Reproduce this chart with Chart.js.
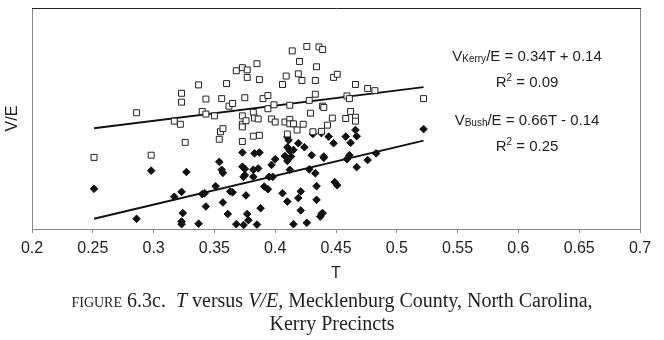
<!DOCTYPE html>
<html>
<head>
<title>T versus V/E</title>
<script src="https://cdn.jsdelivr.net/npm/chart.js@4.4.1/dist/chart.umd.min.js"></script>
<style>
body { margin:0; background:#fff; }
#wrap { position:relative; width:664px; height:340px; }
.eq {
 position:absolute; left:427px; width:200px; text-align:center;
 font-family:"Liberation Sans", Arial, sans-serif; font-size:15px; line-height:18px; color:#222;
 white-space:nowrap;
}
.eq sub { font-size:10px; vertical-align:-1px; line-height:0; }
.eq sup { font-size:10px; vertical-align:6px; line-height:0; }
.cap {
 position:absolute; left:0; width:664px; text-align:center;
 font-family:"Liberation Serif", "Times New Roman", serif; font-size:20px; line-height:23px; color:#222;
 white-space:nowrap;
}
.sc { font-variant:small-caps; }
</style>
</head>
<body>
<div id="wrap">
<canvas id="myChart" width="664" height="340"></canvas>
<div class="eq" style="top:47px">V<sub>Kerry</sub>/E = 0.34T + 0.14</div>
<div class="eq" style="top:73px">R<sup>2</sup> = 0.09</div>
<div class="eq" style="top:111px">V<sub>Bush</sub>/E = 0.66T - 0.14</div>
<div class="eq" style="top:137px">R<sup>2</sup> = 0.25</div>
<div class="cap" style="top:289px"><span class="sc">figure</span> 6.3c.&nbsp; <i>T</i> versus <i>V/E</i>, Mecklenburg County, North Carolina,<br>Kerry Precincts</div>
</div>
<script>
// turnout T and vote share V/E per precinct
var kerryT = [0.251,0.286,0.298,0.317,0.323,0.323,0.322,0.326,0.337,0.340,
  0.343,0.343,0.350,0.354,0.355,0.357,0.356,0.360,0.362,0.365,
  0.368,0.373,0.377,0.377,0.385,0.387,0.375,0.373,0.373,0.373,
  0.373,0.376,0.382,0.383,0.386,0.382,0.387,0.390,0.394,0.394,
  0.399,0.397,0.400,0.406,0.409,0.414,0.420,0.419,0.422,0.426,
  0.436,0.439,0.434,0.433,0.433,0.428,0.412,0.439,0.440,0.429,
  0.408,0.412,0.412,0.415,0.423,0.418,0.410,0.431,0.438,0.443,
  0.447,0.448,0.451,0.458,0.462,0.466,0.466,0.459,0.461,0.466,
  0.476,0.482,0.522];
var kerryV = [0.162,0.263,0.167,0.244,0.307,0.287,0.237,0.196,0.326,0.266,
  0.294,0.260,0.256,0.203,0.220,0.227,0.295,0.329,0.278,0.284,
  0.358,0.365,0.360,0.343,0.374,0.338,0.297,0.256,0.237,0.231,
  0.198,0.245,0.264,0.251,0.249,0.210,0.212,0.295,0.302,0.272,
  0.281,0.249,0.242,0.327,0.346,0.403,0.379,0.351,0.336,0.413,
  0.412,0.406,0.367,0.336,0.305,0.291,0.280,0.278,0.275,0.262,
  0.242,0.248,0.238,0.238,0.237,0.224,0.215,0.220,0.221,0.235,
  0.251,0.343,0.350,0.250,0.266,0.253,0.244,0.301,0.295,0.327,
  0.318,0.313,0.295];
var bushT = [0.251,0.286,0.298,0.317,0.323,0.327,0.324,0.323,0.323,0.337,
  0.340,0.342,0.343,0.351,0.354,0.356,0.357,0.357,0.361,0.363,
  0.365,0.373,0.373,0.375,0.374,0.375,0.376,0.377,0.368,0.374,
  0.378,0.383,0.387,0.382,0.386,0.382,0.388,0.385,0.395,0.398,
  0.391,0.394,0.397,0.400,0.406,0.410,0.410,0.411,0.410,0.412,
  0.415,0.408,0.413,0.410,0.419,0.424,0.412,0.421,0.419,0.421,
  0.415,0.426,0.430,0.428,0.433,0.431,0.438,0.440,0.440,0.434,
  0.434,0.437,0.438,0.439,0.444,0.448,0.449,0.451,0.458,0.462,
  0.466,0.467,0.459,0.461,0.467,0.476,0.483,0.522];
var bushV = [0.091,0.023,0.132,0.073,0.084,0.129,0.036,0.017,0.011,0.012,
  0.079,0.081,0.051,0.097,0.152,0.134,0.127,0.060,0.034,0.085,
  0.083,0.173,0.141,0.136,0.118,0.122,0.076,0.034,0.011,0.009,
  0.020,0.171,0.173,0.134,0.137,0.118,0.047,0.010,0.118,0.118,
  0.096,0.090,0.145,0.158,0.081,0.062,0.208,0.201,0.185,0.177,
  0.179,0.165,0.164,0.154,0.194,0.185,0.134,0.085,0.070,0.042,
  0.011,0.014,0.167,0.135,0.126,0.215,0.217,0.164,0.161,0.097,
  0.066,0.028,0.034,0.036,0.209,0.194,0.106,0.099,0.209,0.195,
  0.224,0.210,0.158,0.167,0.140,0.156,0.171,0.226];
// trend line end points
var fitT = [0.251, 0.522];
var kerryFitV = [0.228, 0.321];
var bushFitV = [0.023, 0.200];
var xTicks = [0.2,0.25,0.3,0.35,0.4,0.45,0.5,0.55,0.6,0.65,0.7];
var xTickLabels = ['0.2','0.25','0.3','0.35','0.4','0.45','0.5','0.55','0.6','0.65','0.7'];

function pts(xs, ys) {
  return xs.map(function (x, i) { return {x: x, y: ys[i]}; });
}

var frame = {
  id: 'frame',
  afterDatasetsDraw: function (chart) {
    var a = chart.chartArea, c = chart.ctx;
    c.save();
    c.lineWidth = 1;
    c.strokeStyle = '#888';
    c.beginPath();
    c.moveTo(Math.round(a.right) + 0.5, a.top);
    c.lineTo(Math.round(a.right) + 0.5, a.bottom);
    c.stroke();
    c.strokeStyle = '#222';
    c.beginPath();
    c.moveTo(a.left, Math.round(a.top) + 0.5);
    c.lineTo(a.right + 1, Math.round(a.top) + 0.5);
    c.stroke();
    c.restore();
  }
};

var ctx = document.getElementById('myChart').getContext('2d');
var chart = new Chart(ctx, {
  type: 'scatter',
  data: {
    datasets: [
      { label: 'Kerry', data: pts(kerryT, kerryV), pointStyle: 'rect', pointRadius: 4.2,
        borderColor: '#222', backgroundColor: '#fff', borderWidth: 1 },
      { label: 'Bush', data: pts(bushT, bushV), pointStyle: 'rectRot', pointRadius: 3.8,
        borderColor: '#111', backgroundColor: '#111', borderWidth: 1 },
      { label: 'Kerry fit', data: pts(fitT, kerryFitV), showLine: true, pointRadius: 0,
        borderColor: '#111', borderWidth: 2 },
      { label: 'Bush fit', data: pts(fitT, bushFitV), showLine: true, pointRadius: 0,
        borderColor: '#111', borderWidth: 2 }
    ]
  },
  options: {
    responsive: false,
    animation: false,
    plugins: { legend: { display: false }, tooltip: { enabled: false } },
    layout: { padding: { left: 0, right: 24, top: 8, bottom: 0 } },
    scales: {
      x: {
        type: 'linear', min: 0.2, max: 0.7,
        afterBuildTicks: function (s) { s.ticks = xTicks.map(function (v) { return {value: v}; }); },
        ticks: { color: '#222', padding: 6, font: { family: 'Liberation Sans', size: 16 },
          callback: function (v, i) { return xTickLabels[i]; } },
        grid: { drawOnChartArea: false, tickLength: 4, color: '#888' },
        border: { color: '#888' },
        title: { display: true, text: 'T', color: '#222', font: { family: 'Liberation Sans', size: 16 },
          padding: { top: 0, bottom: 57 } },
        afterFit: function (s) { s.height = 111; }
      },
      y: {
        min: 0, max: 0.5,
        ticks: { display: false },
        grid: { display: false },
        border: { color: '#888' },
        title: { display: true, text: 'V/E', color: '#222', font: { family: 'Liberation Sans', size: 16 },
          padding: { top: 3, bottom: 0 } },
        afterFit: function (s) { s.width = 32; }
      }
    }
  },
  plugins: [frame]
});
</script>
</body>
</html>
